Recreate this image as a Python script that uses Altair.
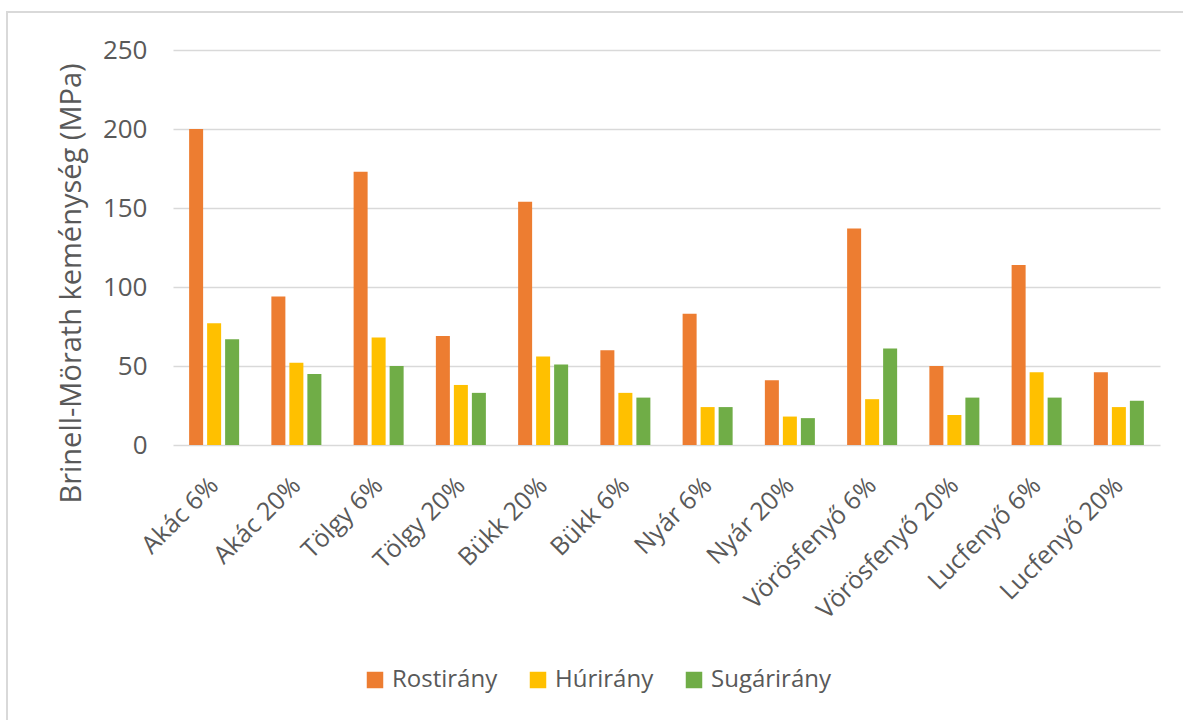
import altair as alt
import pandas as pd

# Wood species / moisture content groups along the x axis
categories = [
    "Akác 6%", "Akác 20%", "Tölgy 6%", "Tölgy 20%", "Bükk 20%", "Bükk 6%",
    "Nyár 6%", "Nyár 20%", "Vörösfenyő 6%", "Vörösfenyő 20%",
    "Lucfenyő 6%", "Lucfenyő 20%",
]
# Loading directions (legend order)
directions = ["Rostirány", "Húrirány", "Sugárirány"]
colors = ["#ED7D31", "#FFC000", "#70AD47"]

# Brinell-Mörath hardness values (MPa) per direction
rostirany = [200, 94, 173, 69, 154, 60, 83, 41, 137, 50, 114, 46]
huriranty = [77, 52, 68, 38, 56, 33, 24, 18, 29, 19, 46, 24]
sugarirany = [67, 45, 50, 33, 51, 30, 24, 17, 61, 30, 30, 28]

y_ticks = [0, 50, 100, 150, 200, 250]

rows = []
for i, cat in enumerate(categories):
    for name, vals in zip(directions, [rostirany, huriranty, sugarirany]):
        rows.append({"kategoria": cat, "irany": name, "ertek": vals[i]})
df = pd.DataFrame(rows)

TEXT = "#595959"
FONT = "Open Sans"

bars = alt.Chart(df).mark_bar().encode(
    x=alt.X(
        "kategoria:N",
        sort=categories,
        scale=alt.Scale(paddingInner=0.392, paddingOuter=0.196),
        axis=alt.Axis(
            title=None, labelAngle=-45, labelAlign="right", labelBaseline="middle",
            labelPadding=36, ticks=False, domain=False, grid=False,
            labelFontSize=25, labelLimit=0,
        ),
    ),
    xOffset=alt.XOffset(
        "irany:N", sort=directions,
        scale=alt.Scale(paddingInner=0.222, paddingOuter=0),
    ),
    y=alt.Y(
        "ertek:Q",
        scale=alt.Scale(domain=[0, 250], nice=False),
        axis=alt.Axis(
            values=y_ticks, title="Brinell-Mörath keménység (MPa)",
            ticks=False, domain=False, labelPadding=26, labelFontSize=26,
            titleFontSize=29, titleFontWeight="normal", titleAngle=270,
            titleX=-93, titleY=233, titleAlign="center", titleBaseline="alphabetic",
        ),
    ),
    color=alt.Color(
        "irany:N", sort=directions,
        scale=alt.Scale(domain=directions, range=colors),
        legend=alt.Legend(
            orient="none", direction="horizontal", legendX=190, legendY=618,
            title=None, symbolType="square", symbolSize=272, symbolStrokeWidth=0,
            labelFontSize=24, columnPadding=28, labelOffset=5,
        ),
    ),
)

# Light frame around the whole chart
frame = alt.Chart(pd.DataFrame({"k": [0]})).mark_rect(
    filled=False, stroke="#d9d9d9", strokeWidth=2
).encode(
    x=alt.value(-166), x2=alt.value(1100),
    y=alt.value(-38), y2=alt.value(800),
)

chart = alt.layer(frame, bars).properties(
    width=987, height=395,
    autosize=alt.AutoSizeParams(type="none"),
    padding={"left": 173, "top": 50, "right": 23, "bottom": 275},
    background="white",
).configure_view(stroke=None).configure_axis(
    labelColor=TEXT, titleColor=TEXT, labelFont=FONT, titleFont=FONT,
    gridColor="#d9d9d9", gridWidth=1.6,
).configure_legend(
    labelColor=TEXT, labelFont=FONT, padding=0,
)

chart.save("out.html", embed_options={"renderer": "svg", "actions": False})
